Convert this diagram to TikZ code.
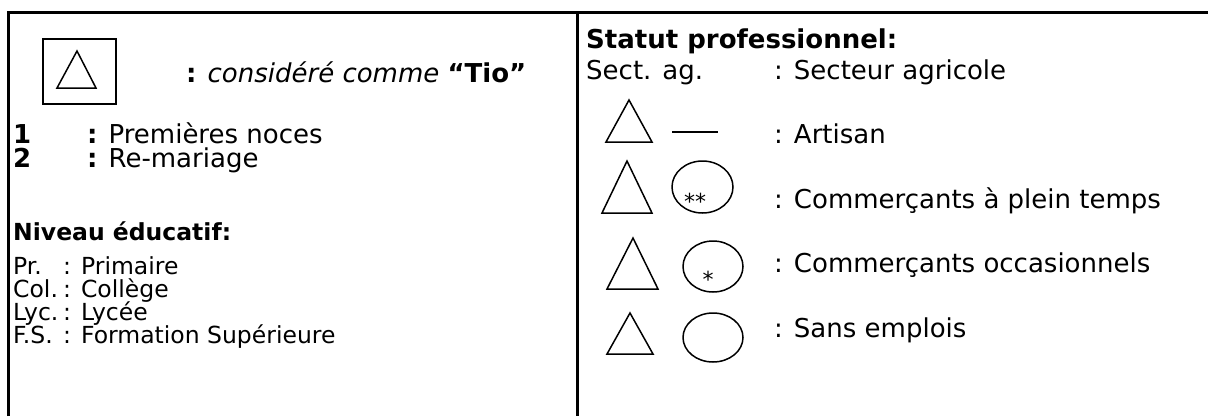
\documentclass[tikz,border=0pt]{standalone}
\usepackage{fontspec}
\setmainfont{DejaVu Sans}
\usetikzlibrary{positioning}

\begin{document}
\begin{tikzpicture}[x=1pt,y=-1pt,
    txt/.style={anchor=base west,inner sep=0pt,font=\fontsize{26}{26}\selectfont},
    small txt/.style={txt,font=\fontsize{23.5}{23.5}\selectfont},
    frame/.style={line width=3pt},
    sym/.style={line width=1.5pt,line join=miter},
    starmark/.style={anchor=base,inner sep=0pt,font=\fontsize{22}{22}\selectfont}]
\useasboundingbox (0,0) rectangle (1208,416);
%Frame
    \draw[frame] (8.5,416) -- (8.5,12.5) -- (1208,12.5);
    \draw[frame] (577.5,12.5) -- (577.5,416);
%Left column
    \draw[sym] (43,39) rectangle (116,104);
    \draw[sym] (57,88) -- (77,51) -- (96,88) -- cycle;
    \node[txt] (tio) at (186,82) {\textbf{:} \textit{considéré comme} \textbf{“Tio”}};
    \node[txt] (n1) at (13,143) {\textbf{1}};
    \node[txt] (n1d) at (87,143) {\textbf{:} Premières noces};
    \node[txt] (n2) at (13,167) {\textbf{2}};
    \node[txt] (n2d) at (87,167) {\textbf{:} Re-mariage};
    \node[small txt] (edu) at (13,240) {\textbf{Niveau éducatif:}};
    \node[small txt] (pr) at (13,274) {Pr.};
    \node[small txt] (prd) at (63,274) {: Primaire};
    \node[small txt] (col) at (13,297) {Col.};
    \node[small txt] (cold) at (63,297) {: Collège};
    \node[small txt] (lyc) at (13,320) {Lyc.};
    \node[small txt] (lycd) at (63,320) {: Lycée};
    \node[small txt] (fs) at (13,343) {F.S.};
    \node[small txt] (fsd) at (63,343) {: Formation Supérieure};
%Right column
    \node[txt] (stat) at (586,48) {\textbf{Statut professionnel:}};
    \node[txt] (sect) at (586,79) {Sect. ag.};
    \node[txt] (sectd) at (774,79) {: Secteur agricole};
    % artisan
    \draw[sym] (606,142) -- (629,100) -- (652,142) -- cycle;
    \draw[sym] (672,132) -- (718,132);
    \node[txt] (art) at (774,143) {: Artisan};
    % plein temps
    \draw[sym] (602,213) -- (627,161) -- (652,213) -- cycle;
    \draw[sym] (702.5,187) ellipse [x radius=30.5, y radius=26];
    \node[starmark] (s2) at (695,209) {**};
    \node[txt] (cpt) at (774,208) {: Commerçants à plein temps};
    % occasionnels
    \draw[sym] (607,289) -- (633,238) -- (658,289) -- cycle;
    \draw[sym] (713,266.5) ellipse [x radius=30, y radius=25.5];
    \node[starmark] (s1) at (708,287.5) {*};
    \node[txt] (cocc) at (774,272) {: Commerçants occasionnels};
    % sans emplois
    \draw[sym] (607,354) -- (630,313) -- (653,354) -- cycle;
    \draw[sym] (713,337.5) ellipse [x radius=30, y radius=24.5];
    \node[txt] (sans) at (774,337) {: Sans emplois};
\end{tikzpicture}
\end{document}
